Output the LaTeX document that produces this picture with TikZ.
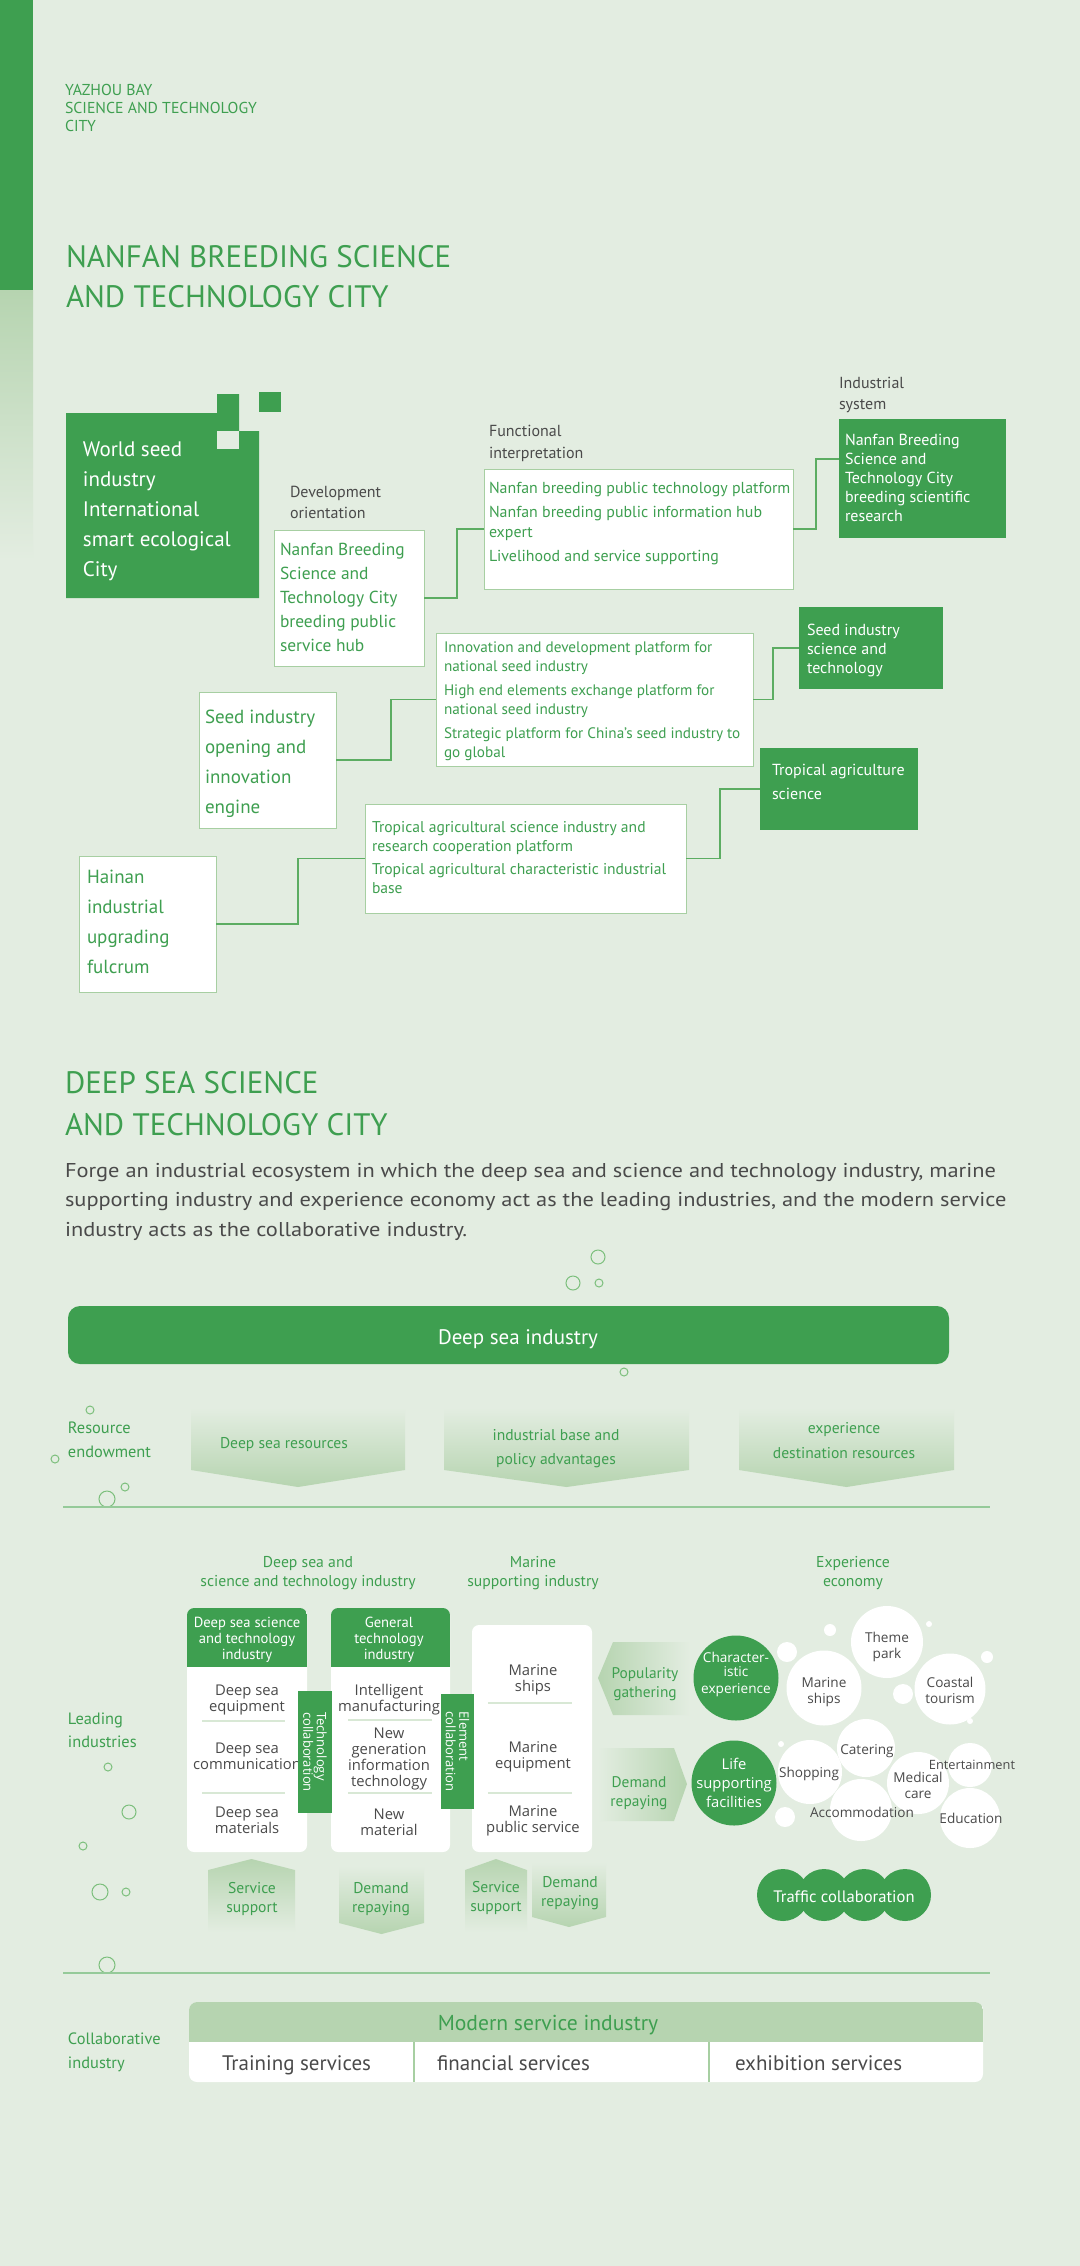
\documentclass[tikz,border=0pt]{standalone}
\usepackage{fontspec}
\setmainfont{PT Sans}
\newfontfamily\osans{Open Sans}
\newfontfamily\ptwide[FakeStretch=1.12]{PT Sans}
\usetikzlibrary{calc}
\definecolor{bg}{HTML}{E3EDE1}
\definecolor{dg}{HTML}{3E9F50}
\definecolor{tg}{HTML}{3E9F50}
\definecolor{lg}{HTML}{B6D4B0}
\definecolor{bd}{HTML}{A7CFA2}
\definecolor{cn}{HTML}{5CAD62}
\definecolor{gy}{HTML}{4A4A4A}
\definecolor{ringc}{HTML}{7CBF7C}
\definecolor{sepc}{HTML}{D8E8D5}
\newcommand\myfs[2]{\fontsize{#1}{#2}\selectfont}
\begin{document}
\begin{tikzpicture}[x=0.5pt,y=-0.5pt,
  every node/.style={inner sep=0pt, outer sep=0pt},
  txtl/.style={anchor=base west, align=left},
  txtc/.style={anchor=base, align=center},
  wbox/.style={draw=bd, line width=0.5pt, fill=white, anchor=north west},
  gbox/.style={fill=dg, anchor=north west},
  conn/.style={draw=cn, line width=0.75pt},
  ring/.style={draw=ringc, line width=0.5pt},
  hline/.style={draw=cn!65, line width=0.6pt},
  sepl/.style={draw=sepc, line width=0.6pt},
  item/.style={txtc, text=gy, font=\osans\myfs{7.4}{8}},
  bub/.style={circle, fill=white},
  btxt/.style={txtc, text=gy, font=\osans\myfs{6.8}{7.7}},
  arrtxt/.style={txtc, text=tg, font=\myfs{7.8}{9.5}}]
% background
\path[fill=bg] (0,0) rectangle (1080,2266);
\fill[dg] (0,0) rectangle (33,290);
\shade[top color=lg, bottom color=bg] (0,290) rectangle (33,560);
% header (nodes placed at the baseline of their last line)
\node[txtl, text=tg, font=\myfs{7.9}{9.15}] (yz) at (65,131.6) {YAZHOU BAY\\SCIENCE AND TECHNOLOGY\\CITY};
\node[txtl, text=tg, font=\myfs{15.5}{20}] (t1) at (66,307) {NANFAN BREEDING SCIENCE\\AND TECHNOLOGY CITY};
% big green block
\fill[dg] (66,413) -- (217,413) -- (217,394) -- (239,394) -- (239,431) -- (259,431) -- (259,598) -- (66,598) -- cycle;
\fill[bg] (217,431) rectangle (239,449);
\fill[dg] (259,392) rectangle (281,412);
\node[txtl, text=white, font=\myfs{10.5}{15}] (ws) at (83,576) {World seed\\industry\\International\\smart ecological\\City};
% development orientation
\node[txtl, text=gy, font=\myfs{8}{10.5}] (devl) at (290,518) {Development\\orientation};
\node[wbox, minimum width=75pt, minimum height=68pt] (dev) at (274,530) {};
\node[txtl, text=tg, font=\myfs{8.7}{12}] (devt) at (280,651) {Nanfan Breeding\\Science and\\Technology City\\breeding public\\service hub};
% functional interpretation
\node[txtl, text=gy, font=\myfs{8}{11}] (funl) at (489,458) {Functional\\interpretation};
\node[wbox, minimum width=154.5pt, minimum height=60pt] (fun) at (484,469) {};
\node[txtl, text=tg, font=\myfs{7.95}{10}] (funt) at (489,561) {Nanfan breeding public technology platform\\[2pt]Nanfan breeding public information hub\\expert\\[2pt]Livelihood and service supporting};
% industrial system
\node[txtl, text=gy, font=\myfs{8}{10.5}] (indl) at (839,409) {Industrial\\system};
\node[gbox, minimum width=83.5pt, minimum height=59.5pt] (ind) at (839,419) {};
\node[txtl, text=white, font=\myfs{8}{9.5}] (indt) at (845,521) {Nanfan Breeding\\Science and\\Technology City\\breeding scientific\\research};
% row 2
\node[wbox, minimum width=68.5pt, minimum height=68pt] (open) at (199,692) {};
\node[txtl, text=tg, font=\myfs{9.5}{15}] (opent) at (205,813) {Seed industry\\opening and\\innovation\\engine};
\node[wbox, minimum width=158.5pt, minimum height=66.5pt] (inn) at (436,633) {};
\node[txtl, text=tg, font=\myfs{7.6}{9.5}] (innt) at (444,757) {Innovation and development platform for\\national seed industry\\[2.5pt]High end elements exchange platform for\\national seed industry\\[2.5pt]Strategic platform for China's seed industry to\\go global};
\node[gbox, minimum width=72pt, minimum height=41pt] (seed) at (799,607) {};
\node[txtl, text=white, font=\myfs{8}{9.5}] (seedt) at (807,673) {Seed industry\\science and\\technology};
% row 3
\node[wbox, minimum width=68.5pt, minimum height=68pt] (hai) at (79,856) {};
\node[txtl, text=tg, font=\myfs{9.5}{15}] (hait) at (87,973) {Hainan\\industrial\\upgrading\\fulcrum};
\node[wbox, minimum width=160.5pt, minimum height=54.5pt] (trop) at (365,804) {};
\node[txtl, text=tg, font=\myfs{7.8}{9.5}] (tropt) at (372,893) {Tropical agricultural science industry and\\research cooperation platform\\[2pt]Tropical agricultural characteristic industrial\\base};
\node[gbox, minimum width=79pt, minimum height=41pt] (tsci) at (760,748) {};
\node[txtl, text=white, font=\myfs{8}{12}] (tscit) at (772,799) {Tropical agriculture\\science};
% connectors
\draw[conn] (dev.east) -- ++(33,0) |- (fun.west);
\draw[conn] (fun.east) -- ++(23,0) |- ($(ind.north west)!0.336!(ind.south west)$);
\draw[conn] (open.east) -- ++(55,0) |- (inn.west);
\draw[conn] (inn.east) -- ++(20,0) |- (seed.west);
\draw[conn] (hai.east) -- ++(82,0) |- (trop.west);
\draw[conn] (trop.east) -- ++(34,0) |- (tsci.west);
% ===== deep sea section
\node[txtl, text=tg, font=\myfs{15.5}{21}] (t2) at (65,1135) {DEEP SEA SCIENCE\\AND TECHNOLOGY CITY};
\node[txtl, text=gy, font=\ptwide\myfs{10}{14.75}] (para) at (65,1236) {Forge an industrial ecosystem in which the deep sea and science and technology industry, marine\\supporting industry and experience economy act as the leading industries, and the modern service\\industry acts as the collaborative industry.};
\foreach \x/\y/\r in {598/1257/3.5, 573/1283/3.5, 599/1283/2, 624/1372/2, 90/1410/2, 55/1459/2, 125/1487/2, 107/1499/4, 108/1767/2, 129/1812/3.5, 83/1846/2, 100/1892/4, 126/1892/2, 107/1965/4}
  \draw[ring] (\x,\y) circle[radius=\r pt];
\node[fill=dg, rounded corners=6pt, minimum width=440.5pt, minimum height=29pt, anchor=north west] (dsi) at (68,1306) {};
\node[anchor=base, text=white, font=\myfs{10.5}{12}] (dsit) at (518,1344) {Deep sea industry};
% resource endowment
\node[txtl, text=tg, font=\myfs{8.2}{12}] (rel) at (68,1457) {Resource\\endowment};
\shade[top color=bg, bottom color=lg] (191,1408) -- (405,1408) -- (405,1470) -- (298,1487) -- (191,1470) -- cycle;
\shade[top color=bg, bottom color=lg] (444,1408) -- (689,1408) -- (689,1470) -- (566.5,1487) -- (444,1470) -- cycle;
\shade[top color=bg, bottom color=lg] (739,1408) -- (954,1408) -- (954,1470) -- (846.5,1487) -- (739,1470) -- cycle;
\node[txtc, text=tg, font=\myfs{7.8}{12}] (r1) at (284,1448) {Deep sea resources};
\node[txtc, text=tg, font=\myfs{7.8}{12}] (r2) at (556,1464) {industrial base and\\policy advantages};
\node[txtc, text=tg, font=\myfs{7.8}{12.5}] (r3) at (844,1458) {experience\\destination resources};
\draw[hline] (63,1507) -- (990,1507);
% leading industries
\node[txtc, text=tg, font=\myfs{7.85}{9.5}] (h1) at (308,1586) {Deep sea and\\science and technology industry};
\node[txtc, text=tg, font=\myfs{7.85}{9.5}] (h2) at (533,1586) {Marine\\supporting industry};
\node[txtc, text=tg, font=\myfs{7.85}{9.5}] (h3) at (853,1586) {Experience\\economy};
\node[txtl, text=tg, font=\myfs{8.2}{11.5}] (lil) at (68,1747) {Leading\\industries};
% columns
\node[fill=white, rounded corners=3.5pt, minimum width=60pt, minimum height=122pt, anchor=north west] (c1) at (187,1608) {};
\begin{scope}\clip[rounded corners=3.5pt] (187,1608) rectangle (307,1852); \fill[dg] (187,1608) rectangle (307,1667);\end{scope}
\node[fill=white, rounded corners=3.5pt, minimum width=59.5pt, minimum height=122pt, anchor=north west] (c2) at (331,1608) {};
\begin{scope}\clip[rounded corners=3.5pt] (331,1608) rectangle (450,1852); \fill[dg] (331,1608) rectangle (450,1667);\end{scope}
\node[fill=white, rounded corners=3.5pt, minimum width=60pt, minimum height=113.5pt, anchor=north west] (c3) at (472,1625) {};
\node[txtc, text=white, font=\myfs{7.3}{8}] (c1h) at (247,1659) {Deep sea science\\and technology\\industry};
\node[txtc, text=white, font=\myfs{7.3}{8}] (c2h) at (389,1659) {General\\technology\\industry};
\draw[sepl] (202,1721) -- (285,1721);
\draw[sepl] (202,1793) -- (285,1793);
\draw[sepl] (348,1720) -- (432,1720);
\draw[sepl] (348,1793) -- (432,1793);
\draw[sepl] (488,1703) -- (572,1703);
\draw[sepl] (488,1793) -- (572,1793);
\node[item] (i11) at (247,1711) {Deep sea\\equipment};
\node[item] (i12) at (247,1769) {Deep sea\\communication};
\node[item] (i13) at (247,1833) {Deep sea\\materials};
\node[item] (i21) at (389,1711) {Intelligent\\manufacturing};
\node[item] (i22) at (389,1786) {New\\generation\\information\\technology};
\node[item] (i23) at (389,1835) {New\\material};
\node[item] (i31) at (533,1691) {Marine\\ships};
\node[item] (i32) at (533,1768) {Marine\\equipment};
\node[item] (i33) at (533,1832) {Marine\\public service};
\node[fill=dg, minimum width=17pt, minimum height=61pt, anchor=north west] (tc) at (298,1691) {};
\node[rotate=-90, text=white, font=\osans\myfs{6.5}{6.8}, align=left] (tct) at (tc.center) {Technology\\collaboration};
\node[fill=dg, minimum width=16.5pt, minimum height=57.5pt, anchor=north west] (ec) at (441,1694) {};
\node[rotate=-90, text=white, font=\osans\myfs{6.5}{6.8}, align=left] (ect) at (ec.center) {Element\\collaboration};
% support arrows
\shade[top color=lg, bottom color=bg] (208,1870) -- (251.5,1859) -- (295,1870) -- (295,1932) -- (208,1932) -- cycle;
\shade[top color=bg, bottom color=lg] (339,1866) -- (424,1866) -- (424,1923) -- (381.5,1934) -- (339,1923) -- cycle;
\shade[top color=lg, bottom color=bg] (465,1870) -- (496,1859) -- (527,1870) -- (527,1932) -- (465,1932) -- cycle;
\shade[top color=bg, bottom color=lg] (532,1862) -- (606,1862) -- (606,1917) -- (569,1927) -- (532,1917) -- cycle;
\node[arrtxt] (a1) at (252,1912) {Service\\support};
\node[arrtxt] (a2) at (381,1912) {Demand\\repaying};
\node[arrtxt] (a3) at (496,1911) {Service\\support};
\node[arrtxt] (a4) at (570,1906) {Demand\\repaying};
% experience arrows
\shade[left color=lg, right color=bg] (598,1678) -- (613,1642) -- (690,1642) -- (690,1715) -- (613,1715) -- cycle;
\shade[left color=bg, right color=lg] (598,1748) -- (674,1748) -- (687,1784) -- (674,1821) -- (598,1821) -- cycle;
\node[txtc, text=tg, font=\myfs{7.7}{9.5}] (pg) at (645,1697) {Popularity\\gathering};
\node[txtc, text=tg, font=\myfs{7.7}{9.5}] (dr) at (639,1806) {Demand\\repaying};
% bubbles
\node[circle, fill=dg, minimum size=42.5pt] (chx) at (736,1678) {};
\node[circle, fill=dg, minimum size=42.5pt] (life) at (734,1783) {};
\node[bub, minimum size=37.5pt] (ms) at (824,1688) {};
\node[bub, minimum size=36pt] (tp) at (887,1642) {};
\node[bub, minimum size=35.5pt] (cto) at (950,1689) {};
\node[bub, minimum size=32pt] (sh) at (810,1772) {};
\node[bub, minimum size=29pt] (cat) at (866,1748) {};
\node[bub, minimum size=31pt] (acc) at (861,1810) {};
\node[bub, minimum size=31pt] (med) at (918,1783) {};
\node[bub, minimum size=22pt] (ent) at (970,1765) {};
\node[bub, minimum size=30pt] (edu) at (970,1818) {};
\foreach \x/\y/\d in {830/1630/6, 787/1652/10, 929/1624/3, 987/1657/6, 903/1694/10, 970/1721/3, 781/1744/3, 785/1817/10}
  \fill[white] (\x,\y) circle[radius=\d pt/2];
\node[txtc, text=white, font=\osans\myfs{6.8}{7}] (chxt) at (736,1693) {Character-\\istic\\[1.5pt]experience};
\node[txtc, text=white, font=\osans\myfs{7.4}{9.5}] (lifet) at (734,1807) {Life\\supporting\\facilities};
\node[btxt] (mst) at (824,1703) {Marine\\ships};
\node[btxt] (tpt) at (887,1658) {Theme\\park};
\node[btxt] (ctot) at (950,1703) {Coastal\\tourism};
\node[btxt] (sht) at (809,1777) {Shopping};
\node[btxt] (catt) at (867,1754) {Catering};
\node[btxt] (acct) at (862,1817) {Accommodation};
\node[btxt] (medt) at (918,1798) {Medical\\care};
\node[btxt, font=\osans\myfs{6.4}{7.7}] (entt) at (972,1769) {Entertainment};
\node[btxt] (edut) at (971,1823) {Education};
% traffic
\foreach \x in {783,824,864,905} \fill[dg] (\x,1895) circle[radius=13pt];
\node[anchor=base, text=white, font=\myfs{8.3}{9}] (trt) at (844,1902) {Traffic collaboration};
\draw[hline] (63,1973) -- (990,1973);
% collaborative industry
\node[txtl, text=tg, font=\myfs{8.2}{12}] (cil) at (68,2068) {Collaborative\\industry};
\node[fill=white, rounded corners=4pt, minimum width=397pt, minimum height=40pt, anchor=north west] (msi) at (189,2002) {};
\begin{scope}\clip[rounded corners=4pt] (189,2002) rectangle (983,2082); \fill[lg] (189,2002) rectangle (983,2042);\end{scope}
\draw[draw=bd, line width=0.6pt] (414,2042) -- (414,2082);
\draw[draw=bd, line width=0.6pt] (709,2042) -- (709,2082);
\node[anchor=base, text=tg, font=\myfs{10.8}{12}] (msit) at (548,2030) {Modern service industry};
\node[txtl, text=gy, font=\myfs{10.5}{12}] (s1) at (222,2070) {Training services};
\node[txtl, text=gy, font=\myfs{10.5}{12}] (s2) at (437,2070) {financial services};
\node[txtl, text=gy, font=\myfs{10.5}{12}] (s3) at (735,2070) {exhibition services};
\end{tikzpicture}
\end{document}
